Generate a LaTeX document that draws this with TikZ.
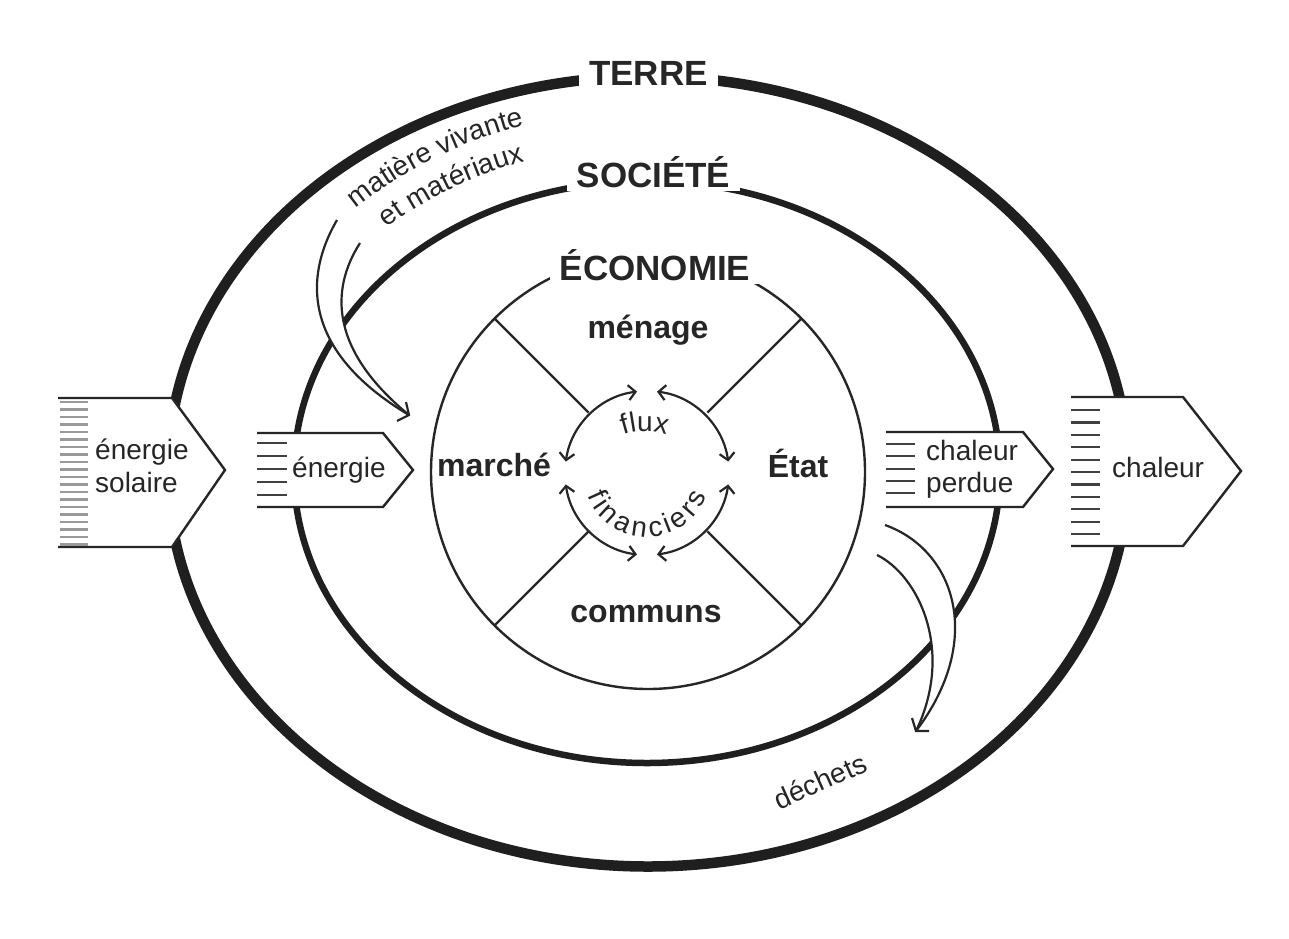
\documentclass[tikz,border=0pt]{standalone}
\usepackage{fontspec}
\setmainfont{Liberation Sans}
\usetikzlibrary{arrows.meta,decorations.text}
\begin{document}
\begin{tikzpicture}[x=1pt,y=-1pt,
  terre/.style={line width=10.5pt, draw=black!88},
  soc/.style={line width=6.5pt, draw=black!88},
  eco/.style={line width=2.4pt, draw=black!85},
  outl/.style={line width=2.4pt, draw=black!85, line join=miter},
  hatchl/.style={line width=2.2pt, draw=black!75},
  hatchg/.style={line width=2.6pt, draw=black!40},
  curv/.style={line width=2.2pt, draw=black!85},
  farrow/.style={line width=2.2pt, draw=black!85, {Straight Barb[length=7pt,width=15pt]}-{Straight Barb[length=7pt,width=15pt]}},
  reg/.style={font=\fontsize{28}{32}\selectfont, text=black!85, inner sep=0pt},
  bld/.style={font=\fontsize{32}{36}\selectfont\bfseries, text=black!85, inner sep=0pt},
  ttl/.style={font=\fontsize{35}{38}\selectfont\bfseries, text=black!85, fill=white, inner xsep=10pt, inner ysep=4pt},
]
\useasboundingbox (0,0) rectangle (1289,938);
\fill[white] (0,0) rectangle (1289,938);

% ellipses
\coordinate (C) at (648,471.5);
\draw[terre] (C) ellipse [x radius=480, y radius=395];
\coordinate (S) at (647,472);
\draw[soc] (S) ellipse [x radius=353, y radius=291];
\coordinate (E) at (648,472);
\draw[eco] (E) circle [radius=217];
\foreach \a in {45,135,225,315}
  \draw[eco] ([shift={(E)}]\a:84) -- ([shift={(E)}]\a:217);

% titles
\node[ttl, anchor=base] (terre) at (648.5,85) {TERRE};
\node[ttl, anchor=base] (societe) at (653.5,187) {SOCIÉTÉ};
\node[ttl, anchor=base] (economie) at (655,280) {ÉCONOMIE};

% sectors
\node[bld, anchor=base] (menage) at (648,338) {ménage};
\node[bld, anchor=base] (marche) at (494,476) {marché};
\node[bld, anchor=base] (etat) at (798,477) {État};
\node[bld, anchor=base] (communs) at (646,622) {communs};

% flux arrows
\coordinate (F) at (647,473);
\draw[farrow] ([shift={(F)}]-97:82) arc[start angle=-97, end angle=-172, radius=82];
\draw[farrow] ([shift={(F)}]-188:82) arc[start angle=-188, end angle=-263, radius=82];
\draw[farrow] ([shift={(F)}]-277:82) arc[start angle=-277, end angle=-352, radius=82];
\draw[farrow] ([shift={(F)}]-8:82) arc[start angle=-8, end angle=-83, radius=82];
\coordinate (FT) at (645,497);
\path[decorate, decoration={text along path, text={|\fontsize{28}{30}\selectfont|flux}, text align=center, text color=black!85}]
  ([shift={(FT)}]-125:66) arc[start angle=-125, end angle=-55, radius=66];
\path[decorate, decoration={text along path, text={|\fontsize{28}{30}\selectfont|financiers}, text align={fit to path}, text color=black!85}]
  ([shift={(F)}]-201:64) arc[start angle=-201, end angle=-339, radius=64];

% matiere text
\path[decorate, decoration={text along path, text={|\fontsize{28}{30}\selectfont|matière vivante}, text align=center, text color=black!85}]
  ([shift={(C)}]-142.5:425 and 362) arc[start angle=-142.5, end angle=-98.5, x radius=425, y radius=362];
\path[decorate, decoration={text along path, text={|\fontsize{28}{30}\selectfont|et matériaux}, text align=center, text color=black!85}]
  ([shift={(C)}]-142.5:392 and 327) arc[start angle=-142.5, end angle=-98.5, x radius=392, y radius=327];

\node[reg, rotate=24] (dechets) at (820,781) {déchets};

% big left arrow
\fill[white] (58,398) -- (172,398) -- (225,470) -- (172,547) -- (58,547) -- cycle;
\draw[outl] (58,398) -- (172,398) -- (225,470) -- (172,547) -- (58,547);
\foreach \y in {402,409.5,...,545} \draw[hatchg] (60,\y) -- (88,\y);
\node[reg, align=left, anchor=west, font=\fontsize{28}{33}\selectfont] (esol) at (95,466) {énergie\\solaire};

% small energie arrow
\fill[white] (257,433) -- (383,433) -- (413,470) -- (383,507) -- (257,507) -- cycle;
\draw[outl] (257,433) -- (383,433) -- (413,470) -- (383,507) -- (257,507);
\foreach \y in {443,456,469,482,495} \draw[hatchl] (257,\y) -- (287,\y);
\node[reg, anchor=base west] (energie) at (292,477) {énergie};

% chaleur perdue
\fill[white] (886,432) -- (1023,432) -- (1053,469) -- (1023,507) -- (886,507) -- cycle;
\draw[outl] (886,432) -- (1023,432) -- (1053,469) -- (1023,507) -- (886,507);
\foreach \y in {444,456,469,481,493} \draw[hatchl] (886,\y) -- (915,\y);
\node[reg, align=left, anchor=west, font=\fontsize{28}{32}\selectfont] (cperdue) at (926,469) {chaleur\\perdue};

% big chaleur
\fill[white] (1071,397) -- (1183,397) -- (1241,471) -- (1183,546) -- (1071,546) -- cycle;
\draw[outl] (1071,397) -- (1183,397) -- (1241,471) -- (1183,546) -- (1071,546);
\foreach \y in {410,422.4,...,535} \draw[hatchl] (1071,\y) -- (1100,\y);
\node[reg, anchor=base west] (chaleur) at (1112,477) {chaleur};

% matiere arrow
\coordinate (mA) at (337,220);
\coordinate (mB) at (360,243);
\coordinate (mT) at (409,415);
\fill[white] (mA) .. controls (305,275) and (300,350) .. (mT) .. controls (330,350) and (330,290) .. (mB) -- cycle;
\draw[curv] (mA) .. controls (305,275) and (300,350) .. (mT);
\draw[curv] (mB) .. controls (330,290) and (330,350) .. (mT);
\draw[curv] (397,421) -- (mT) -- (406,402);

% dechets arrow
\coordinate (dA) at (885,525);
\coordinate (dB) at (877,555);
\coordinate (dT) at (916,731);
\fill[white] (dA) .. controls (955,550) and (985,640) .. (dT) .. controls (955,650) and (918,575) .. (dB) -- cycle;
\draw[curv] (dA) .. controls (955,550) and (985,640) .. (dT);
\draw[curv] (dB) .. controls (918,575) and (955,650) .. (dT);
\draw[curv] (929,731) -- (dT) -- (912,718);
\end{tikzpicture}
\end{document}
